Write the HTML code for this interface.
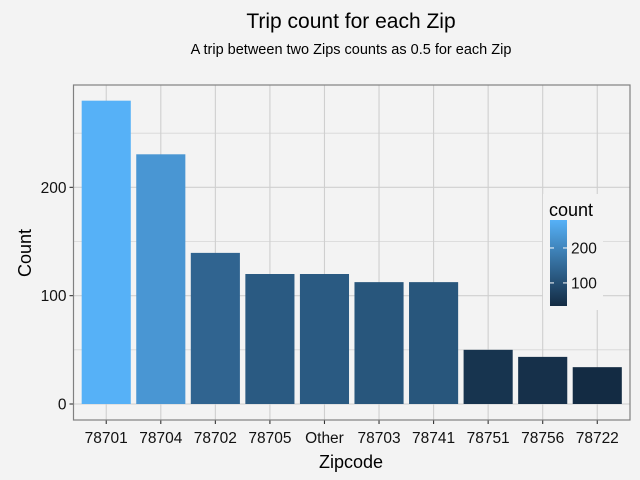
<!DOCTYPE html>
<html><head><meta charset="utf-8"><style>
body{margin:0;background:#f3f3f3;}
svg{display:block;font-family:"Liberation Sans",Arial,sans-serif;}
</style></head><body>
<svg id="c" width="640" height="480">
<defs><linearGradient id="lg" x1="0" y1="1" x2="0" y2="0">
<stop offset="0" stop-color="#132B43"/><stop offset="1" stop-color="#56B1F7"/></linearGradient></defs>
<rect width="640" height="480" fill="#f3f3f3"/>
<text x="351" y="28" font-size="21" text-anchor="middle" fill="#000">Trip count for each Zip</text>
<text x="351" y="54" font-size="14.5" text-anchor="middle" fill="#000">A trip between two Zips counts as 0.5 for each Zip</text>
<g id="grid"></g><g id="bars"></g><g id="axes"></g>
<text x="351" y="468" font-size="18" text-anchor="middle" fill="#000">Zipcode</text>
<text transform="translate(31,253) rotate(-90)" font-size="18" text-anchor="middle" fill="#000">Count</text>
<g id="legend">
<rect x="543" y="194" width="60" height="116" fill="#f3f3f3"/>
<text x="549" y="216" font-size="18" fill="#000">count</text>
<rect id="cbar" x="550" y="220" width="17" height="86" fill="url(#lg)"/>
<g id="lticks"></g>
</g>
</svg>
<script>
const categories=["78701","78704","78702","78705","Other","78703","78741","78751","78756","78722"];
const counts=[280,230.5,139.5,120,120,112.5,112.5,50,43.5,34];
const yTicks=[0,100,200];
const yMinor=[50,150,250];
const legendTicks=[100,200];
const ns="http://www.w3.org/2000/svg";
const L=73.5,R=630,T=85,B=420;
const y0=404,pxPer=108.33/100;
const y=v=>y0-v*pxPer;
const step=(R-L)/(categories.length+0.2);
const x=i=>L+step*(0.6+i);
const bw=step*0.9;
const mn=Math.min(...counts),mx=Math.max(...counts);
const c1=[0x13,0x2B,0x43],c2=[0x56,0xB1,0xF7];
function col(v){const t=(v-mn)/(mx-mn);return "rgb("+c1.map((a,k)=>Math.round(a+(c2[k]-a)*t)).join(",")+")";}
function mk(tag,attrs,parent){const e=document.createElementNS(ns,tag);for(const k in attrs)e.setAttribute(k,attrs[k]);document.getElementById(parent).appendChild(e);return e;}
yMinor.forEach(v=>{const e=mk("line",{x1:L,x2:R,y1:y(v),y2:y(v),stroke:"#d6d6d6","stroke-width":0.8},"grid");

});
yTicks.forEach(v=>{const e=mk("line",{x1:L,x2:R,y1:y(v),y2:y(v),stroke:"#cfcfcf","stroke-width":1.1},"grid");


const t=mk("line",{x1:L-4,x2:L,y1:y(v),y2:y(v),stroke:"#333","stroke-width":1.1},"axes");


const lb=mk("text",{x:L-7,y:y(v)+5.5,"font-size":15.5,"text-anchor":"end",fill:"#111"},"axes");lb.textContent=v;

});
categories.forEach((c,i)=>{const e=mk("line",{x1:x(i),x2:x(i),y1:T,y2:B,stroke:"#cfcfcf","stroke-width":1.1},"grid");


const r=mk("rect",{x:x(i)-bw/2,y:y(counts[i]),width:bw,height:y(0)-y(counts[i]),fill:col(counts[i])},"bars");


const t=mk("line",{x1:x(i),x2:x(i),y1:B,y2:B+4,stroke:"#333","stroke-width":1.1},"axes");


const lb=mk("text",{x:x(i),y:443,"font-size":15.5,"text-anchor":"middle",fill:"#111"},"axes");lb.textContent=c;

});
const pb=mk("rect",{x:L,y:T,width:R-L,height:B-T,fill:"none",stroke:"#808080","stroke-width":1.2},"axes");


legendTicks.forEach(v=>{const yy=306-(v-mn)/(mx-mn)*86;
const a=mk("line",{x1:550,x2:554,y1:yy,y2:yy,stroke:"#fff"},"lticks");


const b=mk("line",{x1:563,x2:567,y1:yy,y2:yy,stroke:"#fff"},"lticks");


const lb=mk("text",{x:571,y:yy+5.5,"font-size":15.5,fill:"#111"},"lticks");lb.textContent=v;

});
</script>
</body></html>
